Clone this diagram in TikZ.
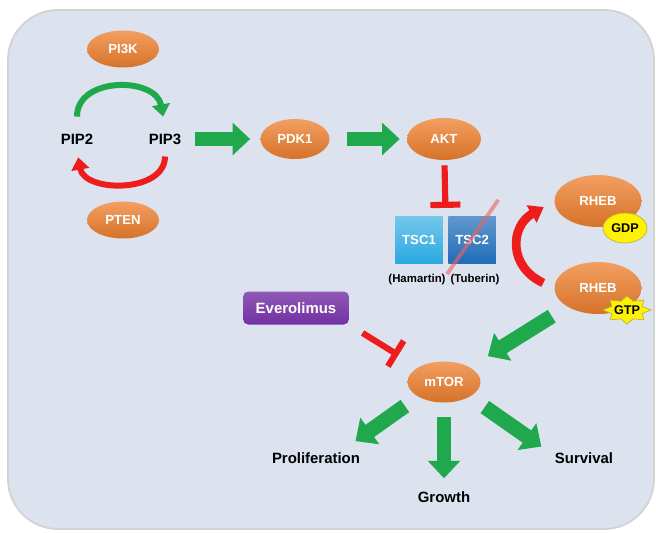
\documentclass[tikz,border=0pt]{standalone}
\usepackage{fontspec}
\setmainfont{Liberation Sans}
\usetikzlibrary{positioning,calc,shapes.geometric,arrows.meta}

\definecolor{bgblue}{HTML}{DCE3EF}
\definecolor{orng}{HTML}{EE7F2D}
\definecolor{arrgreen}{HTML}{1FA84C}
\definecolor{inhred}{HTML}{EE1C1C}
\definecolor{tscone}{HTML}{2AA9E0}
\definecolor{tsctwo}{HTML}{1F6CB8}
\definecolor{evpurple}{HTML}{7330A2}

\begin{document}
\begin{tikzpicture}[x=0.02cm,y=-0.02cm]
\tikzset{protein/.style={ellipse,inner sep=0pt,minimum width=1.44cm,minimum height=0.74cm,top color=orng!75!white,middle color=orng,bottom color=orng!90!black,text=white,font=\fontsize{7.5}{9}\selectfont\bfseries},
  lipid/.style={font=\fontsize{8.5}{10}\selectfont\bfseries},
  outcome/.style={font=\fontsize{8.5}{10}\selectfont\bfseries},
  subname/.style={font=\fontsize{6.5}{8}\selectfont\bfseries},
  tsc/.style={rectangle,minimum size=0.95cm,inner sep=0pt,text=white,font=\fontsize{7.5}{9}\selectfont\bfseries},
  nucl/.style={fill=yellow,draw=yellow!70!black,thin,inner sep=0pt,font=\fontsize{7.2}{9}\selectfont\bfseries},
  drug/.style={rectangle,rounded corners=3pt,minimum width=2.12cm,minimum height=0.66cm,top color=evpurple!80!white,bottom color=evpurple,text=white,font=\fontsize{8.5}{10}\selectfont\bfseries},
  activate/.style={draw=arrgreen,line width=8.5pt,-{Triangle[length=10pt,width=18pt]}},
  inhibit/.style={draw=inhred,line width=3.5pt,-{Bar[width=17pt]}},
  turnover/.style={line width=3.4pt,-{Triangle[length=7pt,width=10pt]}}}

   \useasboundingbox (0,0) rectangle (656,532);
   \clip (0,0) rectangle (656,532);
   \fill[white] (0,0) rectangle (656,532);
   \draw[fill=bgblue,draw=gray!35,line width=1pt,rounded corners=1cm] (8,10) rectangle (654,529);

   \node[protein] (pi3k) at (123,49) {PI3K};
   \node[protein] (pten) at (123,220) {PTEN};
   \node[lipid] (pip2) at (77,139) {PIP2};
   \node[lipid] (pip3) at (165,139) {PIP3};
   \node[protein,minimum width=1.38cm,minimum height=0.8cm] (pdk1) at (295,139) {PDK1};
   \node[protein,minimum width=1.48cm,minimum height=0.84cm] (akt) at (444,139) {AKT};

   \node[tsc,top color=tscone!65!white,bottom color=tscone] (tsc1) at (419,240) {TSC1};
   \node[tsc,top color=tsctwo!70!white,bottom color=tsctwo,right=0.1cm of tsc1] (tsc2) {TSC2};
   \node[subname] (hamartin) at (417,280) {(Hamartin)};
   \node[subname] (tuberin) at (475,280) {(Tuberin)};

   \node[protein,minimum width=1.74cm,minimum height=1.04cm] (rhebgdp) at (598,201) {RHEB};
   \node[nucl,ellipse,minimum width=0.88cm,minimum height=0.6cm] (gdp) at (625,228) {GDP};
   \node[protein,minimum width=1.74cm,minimum height=1.04cm] (rhebgtp) at (598,288) {RHEB};
   \coordinate (gtpc) at (627,310);
   \filldraw[fill=yellow,draw=yellow!70!black,thin] ($(gtpc)+(0:24 and 14)$)
     \foreach \k [evaluate=\k as \r using {mod(\k,2)==0 ? 1 : 0.68}] in {1,...,15} { -- ($(gtpc)+(\k*22.5:{\r*24} and {\r*14})$) } -- cycle;
   \node[font=\fontsize{7.2}{9}\selectfont\bfseries,inner sep=0pt] (gtp) at (gtpc) {GTP};

   \node[drug] (evero) at (296,308) {Everolimus};
   \node[protein,minimum width=1.46cm,minimum height=0.82cm] (mtor) at (444,382) {mTOR};
   \node[outcome] (prolif) at (316,458) {Proliferation};
   \node[outcome] (growth) at (444,497) {Growth};
   \node[outcome] (surv) at (584,458) {Survival};

   %% PIP2 <-> PIP3 cycle
   \draw[turnover,draw=arrgreen,shorten <=0.22cm,shorten >=0.22cm] (pip2.north) to[out=90,in=100,looseness=1.5] (pip3.north);
   \draw[turnover,draw=inhred,shorten <=0.12cm,shorten >=0.14cm] (pip3.south) to[out=-90,in=-80,looseness=1.25] (pip2.south);

   \draw[activate,shorten <=0.16cm,shorten >=0.2cm] (pip3) -- (pdk1);
   \draw[activate,shorten <=0.34cm,shorten >=0.14cm] (pdk1) -- (akt);

   \coordinate (tsctop) at ($(tsc1.north east)!0.5!(tsc2.north west)$);
   \draw[inhibit,shorten <=0.1cm,shorten >=0.16cm] (akt) -- (tsctop);
   \draw[inhred!70,opacity=0.6,line width=2.2pt] ($(tsc2.south west)+(-1,10)$) -- ($(tsc2.north east)+(2,-16)$);

   \draw[draw=inhred,line width=5pt,-{Triangle[length=8pt,width=11pt]},shorten <=0.24cm,shorten >=0.24cm] (rhebgtp.west) to[out=155,in=210,looseness=1.5] (rhebgdp.west);

   \draw[inhibit,shorten <=0.31cm,shorten >=0.46cm] (evero.south east) -- (mtor.north west);
   \draw[activate,shorten <=0.36cm,shorten >=0.42cm] (rhebgtp.south west) -- (mtor.north east);
   \draw[activate,shorten <=0.32cm,shorten >=0.18cm] (mtor.south west) -- (prolif.20);
   \draw[activate,shorten <=0.28cm,shorten >=0.14cm] (mtor.south) -- (growth.north);
   \draw[activate,shorten <=0.36cm,shorten >=0.18cm] (mtor.south east) -- (surv.170);
 \end{tikzpicture}
\end{document}
